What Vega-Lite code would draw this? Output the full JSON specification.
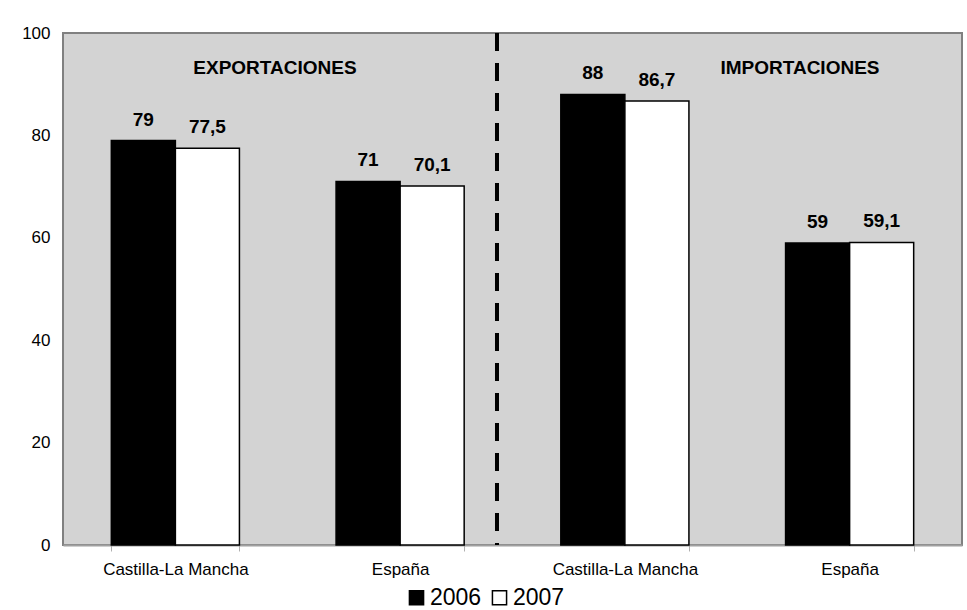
{
  "$schema": "https://vega.github.io/schema/vega-lite/v6.json",
  "width": 899,
  "height": 512,
  "autosize": {"type": "none"},
  "padding": {"left": 63, "top": 33, "right": 5, "bottom": 65},
  "background": "white",
  "config": {
    "font": "Liberation Sans",
    "locale": {"number": {"decimal": ",", "thousands": ".", "grouping": [3], "currency": ["", " €"]}},
    "view": {"fill": "#d3d3d3", "stroke": "#808080", "strokeWidth": 2}
  },
  "datasets": {
    "bars": [
      {"group": "Castilla-La Mancha|E", "year": "2006", "value": 79},
      {"group": "Castilla-La Mancha|E", "year": "2007", "value": 77.5},
      {"group": "España|E", "year": "2006", "value": 71},
      {"group": "España|E", "year": "2007", "value": 70.1},
      {"group": "Castilla-La Mancha|I", "year": "2006", "value": 88},
      {"group": "Castilla-La Mancha|I", "year": "2007", "value": 86.7},
      {"group": "España|I", "year": "2006", "value": 59},
      {"group": "España|I", "year": "2007", "value": 59.1}
    ],
    "sections": [
      {"label": "EXPORTACIONES", "pos": 0.943, "value": 92},
      {"label": "IMPORTACIONES", "pos": 3.279, "value": 92}
    ],
    "divider": [
      {"pos": 1.931, "y0": 0, "y1": 100}
    ]
  },
  "resolve": {"scale": {"x": "independent"}},
  "layer": [
    {
      "data": {"name": "bars"},
      "encoding": {
        "x": {
          "field": "group", "type": "nominal", "sort": null,
          "scale": {"paddingInner": 0.43, "paddingOuter": 0.215},
          "axis": {
            "title": null, "labelAngle": 0, "labelExpr": "split(datum.label, '|')[0]",
            "labelFontSize": 17, "labelColor": "black", "labelPadding": 10,
            "tickBand": "extent", "tickSize": 6, "tickColor": "#b0b0b0",
            "domainColor": "#a0a0a0", "domainWidth": 2
          }
        },
        "xOffset": {"field": "year", "type": "nominal", "scale": {"paddingInner": 0, "paddingOuter": 0}},
        "y": {
          "field": "value", "type": "quantitative",
          "scale": {"domain": [0, 100]},
          "axis": {
            "title": null, "values": [0, 20, 40, 60, 80, 100], "grid": false,
            "ticks": false, "domain": false, "labelFontSize": 17, "labelColor": "black",
            "labelPadding": 13
          }
        }
      },
      "layer": [
        {
          "mark": {"type": "bar", "stroke": "black", "strokeWidth": 1.5},
          "encoding": {
            "color": {
              "field": "year", "type": "nominal",
              "scale": {"domain": ["2006", "2007"], "range": ["black", "white"]},
              "legend": {
                "title": null, "orient": "none", "direction": "horizontal",
                "legendX": 342, "legendY": 553,
                "symbolType": "square", "symbolSize": 200,
                "symbolStrokeColor": "black", "symbolStrokeWidth": 1.5,
                "labelFontSize": 23, "labelColor": "black", "labelOffset": 2,
                "columnPadding": 6
              }
            }
          }
        },
        {
          "mark": {"type": "text", "baseline": "alphabetic", "dy": -15, "fontSize": 19, "fontWeight": "bold", "color": "black"},
          "encoding": {
            "text": {"field": "value", "type": "quantitative", "format": "~g"}
          }
        }
      ]
    },
    {
      "data": {"name": "sections"},
      "mark": {"type": "text", "fontSize": 19, "fontWeight": "bold", "color": "black", "baseline": "alphabetic"},
      "encoding": {
        "x": {"field": "pos", "type": "quantitative", "scale": {"domain": [0, 4]}, "axis": null},
        "y": {"field": "value", "type": "quantitative"},
        "text": {"field": "label", "type": "nominal"}
      }
    },
    {
      "data": {"name": "divider"},
      "mark": {"type": "rule", "strokeWidth": 4, "strokeDash": [18, 12], "color": "black"},
      "encoding": {
        "x": {"field": "pos", "type": "quantitative", "scale": {"domain": [0, 4]}, "axis": null},
        "y": {"field": "y1", "type": "quantitative"},
        "y2": {"field": "y0"}
      }
    }
  ]
}
